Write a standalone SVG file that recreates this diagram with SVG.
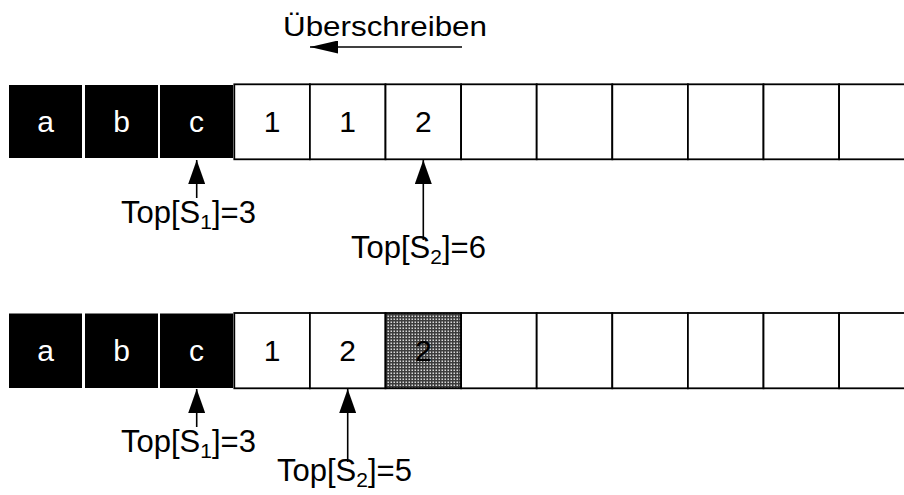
<svg xmlns="http://www.w3.org/2000/svg" width="904" height="495" viewBox="0 0 904 495">
<style>
.blk{fill:#000;}
.cell{fill:#fff;stroke:#000;stroke-width:1.8;}
.shade{fill:url(#dots);stroke:#000;stroke-width:1.8;}
.wt{font-family:"Liberation Sans",Arial,sans-serif;font-size:30px;fill:#fff;text-anchor:middle;}
.bt{font-family:"Liberation Sans",Arial,sans-serif;font-size:30px;fill:#000;text-anchor:middle;}
.lbl{font-family:"Liberation Sans",Arial,sans-serif;font-size:31px;fill:#000;}
.ln{stroke:#000;stroke-width:1.6;fill:none;}
</style>
<defs>
<pattern id="dots" width="3" height="3" patternUnits="userSpaceOnUse">
<rect width="3" height="3" fill="#3c3c3c"/>
<rect x="0.5" y="0.5" width="1.5" height="1.5" fill="#d8d8d8"/>
</pattern>
<marker id="ah" viewBox="0 0 24 17" refX="24" refY="8.5" markerWidth="24" markerHeight="17" markerUnits="userSpaceOnUse" orient="auto">
<path d="M0,0 L24,8.5 L0,17 Z" fill="#000"/>
</marker>
<marker id="ahh" viewBox="0 0 28 13" refX="28" refY="6.5" markerWidth="28" markerHeight="13" markerUnits="userSpaceOnUse" orient="auto">
<path d="M0,0 L28,6.5 L0,13 Z" fill="#000"/>
</marker>
</defs>
<rect width="904" height="495" fill="#fff"/>

<g id="title">
<text class="lbl" x="283" y="36" style="font-size:27px" textLength="204" lengthAdjust="spacingAndGlyphs">Überschreiben</text>
</g>

<!-- Row 1 -->
<g id="r1-a"><rect class="blk" x="9" y="85" width="73" height="73"/><text class="wt" x="45.5" y="131.5">a</text></g>
<g id="r1-b"><rect class="blk" x="85" y="85" width="73" height="73"/><text class="wt" x="121.5" y="131.5">b</text></g>
<g id="r1-c"><rect class="blk" x="160" y="85" width="73" height="73"/><text class="wt" x="196.5" y="131.5">c</text></g>
<g id="r1-4"><rect class="cell" x="234.3" y="84.3" width="75.6" height="75"/><text class="bt" x="272" y="131.5">1</text></g>
<g id="r1-5"><rect class="cell" x="309.9" y="84.3" width="75.6" height="75"/><text class="bt" x="347.7" y="131.5">1</text></g>
<g id="r1-6"><rect class="cell" x="385.5" y="84.3" width="75.6" height="75"/><text class="bt" x="423.3" y="131.5">2</text></g>
<g id="r1-7"><rect class="cell" x="461.1" y="84.3" width="75.6" height="75"/></g>
<g id="r1-8"><rect class="cell" x="536.7" y="84.3" width="75.6" height="75"/></g>
<g id="r1-9"><rect class="cell" x="612.3" y="84.3" width="75.6" height="75"/></g>
<g id="r1-10"><rect class="cell" x="687.9" y="84.3" width="75.6" height="75"/></g>
<g id="r1-11"><rect class="cell" x="763.5" y="84.3" width="75.6" height="75"/></g>
<g id="r1-12"><rect class="cell" x="839.1" y="84.3" width="75.6" height="75"/></g>

<!-- Row 2 -->
<g id="r2-a"><rect class="blk" x="9" y="313.5" width="73" height="74.5"/><text class="wt" x="45.5" y="361">a</text></g>
<g id="r2-b"><rect class="blk" x="85" y="313.5" width="73" height="74.5"/><text class="wt" x="121.5" y="361">b</text></g>
<g id="r2-c"><rect class="blk" x="160" y="313.5" width="73" height="74.5"/><text class="wt" x="196.5" y="361">c</text></g>
<g id="r2-4"><rect class="cell" x="234.3" y="313" width="75.6" height="75.3"/><text class="bt" x="272" y="361">1</text></g>
<g id="r2-5"><rect class="cell" x="309.9" y="313" width="75.6" height="75.3"/><text class="bt" x="347.7" y="361">2</text></g>
<g id="r2-6"><rect class="shade" x="385.5" y="313" width="75.6" height="75.3"/><text class="bt" x="423.3" y="361">2</text></g>
<g id="r2-7"><rect class="cell" x="461.1" y="313" width="75.6" height="75.3"/></g>
<g id="r2-8"><rect class="cell" x="536.7" y="313" width="75.6" height="75.3"/></g>
<g id="r2-9"><rect class="cell" x="612.3" y="313" width="75.6" height="75.3"/></g>
<g id="r2-10"><rect class="cell" x="687.9" y="313" width="75.6" height="75.3"/></g>
<g id="r2-11"><rect class="cell" x="763.5" y="313" width="75.6" height="75.3"/></g>
<g id="r2-12"><rect class="cell" x="839.1" y="313" width="75.6" height="75.3"/></g>

<!-- Labels -->
<g id="lbl-r1-s1"><text class="lbl" x="121" y="223">Top[S<tspan font-size="21" dy="6">1</tspan><tspan dy="-6">]=3</tspan></text></g>
<g id="lbl-r1-s2"><text class="lbl" x="351" y="258">Top[S<tspan font-size="21" dy="6">2</tspan><tspan dy="-6">]=6</tspan></text></g>
<g id="lbl-r2-s1"><text class="lbl" x="121" y="452">Top[S<tspan font-size="21" dy="6">1</tspan><tspan dy="-6">]=3</tspan></text></g>
<g id="lbl-r2-s2"><text class="lbl" x="277" y="481">Top[S<tspan font-size="21" dy="6">2</tspan><tspan dy="-6">]=5</tspan></text></g>

<!-- Connectors -->
<g id="connectors">
<line class="ln" x1="462" y1="47" x2="310" y2="47" marker-end="url(#ahh)"/>
<line class="ln" x1="196.7" y1="198" x2="196.7" y2="160" marker-end="url(#ah)"/>
<line class="ln" x1="423.3" y1="240" x2="423.3" y2="160" marker-end="url(#ah)"/>
<line class="ln" x1="196.7" y1="427" x2="196.7" y2="389" marker-end="url(#ah)"/>
<line class="ln" x1="347.7" y1="462" x2="347.7" y2="389" marker-end="url(#ah)"/>
</g>
</svg>
